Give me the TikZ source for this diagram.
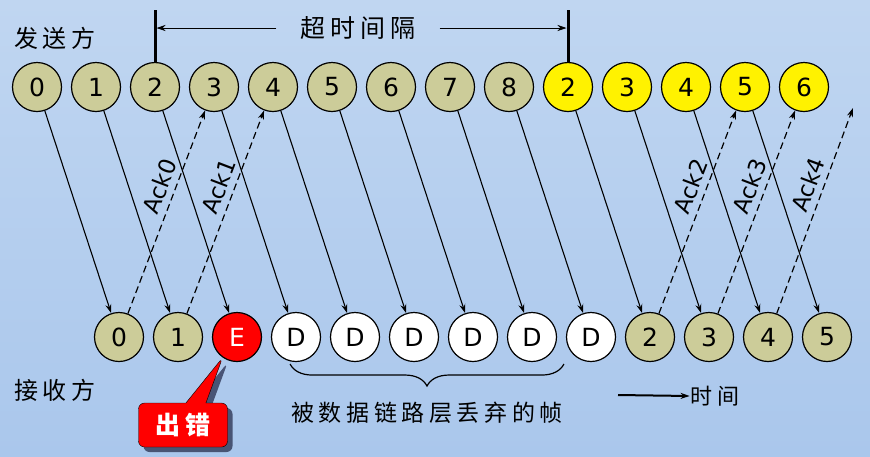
\documentclass[tikz,border=0pt]{standalone}
\usepackage{fontspec}
\setmainfont{DejaVu Sans}
\newfontfamily\cjk{Noto Sans CJK SC}[LetterSpace=20]
\usetikzlibrary{arrows.meta, positioning, shapes.callouts, shadows, decorations.pathreplacing, calc}

\definecolor{pktfill}{RGB}{204,204,153}
\definecolor{bgtop}{RGB}{192,214,241}
\definecolor{bgbottom}{RGB}{170,199,236}
\definecolor{shadowblue}{RGB}{62,72,104}

\tikzset{
    pkt/.style={circle, draw, line width=1.2pt, minimum size=49pt, inner sep=0pt, font=\fontsize{25}{25}\selectfont},
    sent/.style={pkt, fill=pktfill},
    resent/.style={pkt, fill=yellow},
    lost/.style={pkt, fill=white},
    cjklabel/.style={inner sep=1pt, font=\cjk\fontsize{#1}{#1}\selectfont},
    ack/.style={pos=0.6, sloped, above, inner sep=6pt, font=\fontsize{23}{23}\selectfont},
    acklink/.style={->, line width=1.2pt, dash pattern=on 7pt off 4pt},
    datalink/.style={->, line width=1.1pt},
}

\begin{document}
\begin{tikzpicture}[x=1pt, y=-1pt, node distance=8.8pt, >={Stealth[length=9pt, width=6pt]}]
    \useasboundingbox (0,0) rectangle (870,456);
    \shade [top color=bgtop, bottom color=bgbottom] (0,0) rectangle (870,456);

    % sender row
    \node (snd0) [sent] at (37,87) {0};
    \node (snd1) [sent, right=of snd0] {1};
    \node (snd2) [sent, right=of snd1] {2};
    \node (snd3) [sent, right=of snd2] {3};
    \node (snd4) [sent, right=of snd3] {4};
    \node (snd5) [sent, right=of snd4] {5};
    \node (snd6) [sent, right=of snd5] {6};
    \node (snd7) [sent, right=of snd6] {7};
    \node (snd8) [sent, right=of snd7] {8};
    \node (rsd2) [resent, right=of snd8] {2};
    \node (rsd3) [resent, right=of rsd2] {3};
    \node (rsd4) [resent, right=of rsd3] {4};
    \node (rsd5) [resent, right=of rsd4] {5};
    \node (rsd6) [resent, right=of rsd5] {6};

    % receiver row
    \node (rcv0) [sent] at (119,337) {0};
    \node (rcv1) [sent, right=of rcv0] {1};
    \node (err) [pkt, fill=red, text=white, right=of rcv1] {E};
    \node (drop1) [lost, right=of err] {D};
    \node (drop2) [lost, right=of drop1] {D};
    \node (drop3) [lost, right=of drop2] {D};
    \node (drop4) [lost, right=of drop3] {D};
    \node (drop5) [lost, right=of drop4] {D};
    \node (drop6) [lost, right=of drop5] {D};
    \node (rcv2) [sent, right=of drop6] {2};
    \node (rcv3) [sent, right=of rcv2] {3};
    \node (rcv4) [sent, right=of rcv3] {4};
    \node (rcv5) [sent, right=of rcv4] {5};

    \node (sender) [cjklabel=24] at (55,38) {发送方};
    \node (receiver) [cjklabel=24] at (55,390) {接收方};

    % frames
    \draw [datalink] (snd0) -- (rcv0);
    \draw [datalink] (snd1) -- (rcv1);
    \draw [datalink] (snd2) -- (err);
    \draw [datalink] (snd3) -- (drop1);
    \draw [datalink] (snd4) -- (drop2);
    \draw [datalink] (snd5) -- (drop3);
    \draw [datalink] (snd6) -- (drop4);
    \draw [datalink] (snd7) -- (drop5);
    \draw [datalink] (snd8) -- (drop6);
    \draw [datalink] (rsd2) -- (rcv2);
    \draw [datalink] (rsd3) -- (rcv3);
    \draw [datalink] (rsd4) -- (rcv4);
    \draw [datalink] (rsd5) -- (rcv5);

    % acknowledgements
    \coordinate (ack4end) at (853,108);
    \draw [acklink] (rcv0) -- node [ack] {Ack0} (snd3);
    \draw [acklink] (rcv1) -- node [ack] {Ack1} (snd4);
    \draw [acklink] (rcv2) -- node [ack] {Ack2} (rsd5);
    \draw [acklink] (rcv3) -- node [ack] {Ack3} (rsd6);
    \draw [acklink] (rcv4) -- node [ack] {Ack4} (ack4end);

    % timeout interval
    \draw [line width=3pt] (snd2.north) -- ++(0,-52);
    \draw [line width=3pt] (rsd2.north) -- ++(0,-52);
    \node (timeout) [cjklabel=25, inner xsep=24pt] at (358,28) {超时间隔};
    \draw [->, thick, shorten >=1.5pt] (timeout.west) -- (timeout.west -| snd2.north);
    \draw [->, thick, shorten >=1.5pt] (timeout.east) -- (timeout.east -| rsd2.north);

    % discarded frames
    \node (dropped) [cjklabel=23] at (427,413) {被数据链路层丢弃的帧};
    \draw [decorate, decoration={brace, amplitude=22pt}, line width=1.2pt]
        ($(dropped.north east)+(0,-37)$) -- ($(dropped.north west)+(0,-37)$);

    % time axis
    \coordinate (tstart) at (618,395);
    \node (timelbl) [cjklabel=22] at (715,396) {时间};
    \draw [->, line width=2pt] (tstart) -- (timelbl.west);

    % error callout
    \node (errmsg) [rectangle callout, rounded corners=6pt, draw=black, fill=red, text=white,
        minimum width=89pt, minimum height=44pt, callout absolute pointer={(err.235)},
        callout pointer width=20pt,
        drop shadow={shadow xshift=5pt, shadow yshift=-5pt, fill=shadowblue, opacity=0.9},
        font=\cjk\bfseries\fontsize{25}{25}\selectfont] at (183,425) {出错};
\end{tikzpicture}
\end{document}
